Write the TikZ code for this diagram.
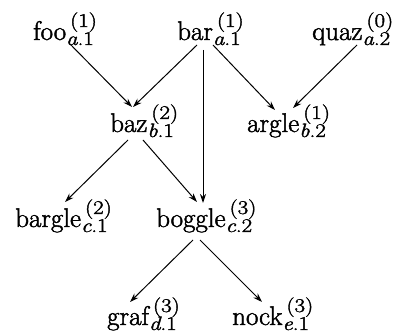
\documentclass[tikz,border=0pt]{standalone}
\usepackage{graphicx}
\usetikzlibrary{arrows.meta}
\newcommand\lbl[4]{\special{pdf:literal direct 2 Tr 0.45 w}#1\makebox[0pt][l]{\raisebox{-5pt}{\scalebox{0.85}[0.72]{\itshape #2\upshape.#3}}}\hspace{4pt}\raisebox{13pt}{\scalebox{0.85}[0.72]{(#4)}}\special{pdf:literal direct 0 Tr}}
\begin{document}
\begin{tikzpicture}[x=1pt,y=1pt,
  word/.style={anchor=base west,inner sep=0pt,font=\fontsize{27}{32}\selectfont},
  edge/.style={line width=1pt,-{Stealth[length=9pt,width=6pt]}}]
\useasboundingbox (0,0) rectangle (402,335);
\node[word] (foo) at (33,295) {\lbl{foo}{a}{1}{1}};
\node[word] (bar) at (177,295) {\lbl{bar}{a}{1}{1}};
\node[word] (quaz) at (312,295) {\lbl{quaz}{a}{2}{0}};
\node[word] (baz) at (110,203) {\lbl{baz}{b}{1}{2}};
\node[word] (argle) at (247,203) {\lbl{argle}{b}{2}{1}};
\node[word] (bargle) at (15,108) {\lbl{bargle}{c}{1}{2}};
\node[word] (boggle) at (156,108) {\lbl{boggle}{c}{2}{3}};
\node[word] (graf) at (107,10) {\lbl{graf}{d}{1}{3}};
\node[word] (nock) at (232,10) {\lbl{nock}{e}{1}{3}};
\draw[edge] ([shift={(37,-4)}]foo.base west) -- ([shift={(22,25)}]baz.base west);
\draw[edge] ([shift={(20,-5)}]bar.base west) -- ([shift={(23,25)}]baz.base west);
\draw[edge] ([shift={(26,-10)}]bar.base west) -- ([shift={(47,24)}]boggle.base west);
\draw[edge] ([shift={(36,-5)}]bar.base west) -- ([shift={(28,22)}]argle.base west);
\draw[edge] ([shift={(45,-5)}]quaz.base west) -- ([shift={(46,24)}]argle.base west);
\draw[edge] ([shift={(18,-8)}]baz.base west) -- ([shift={(50,25)}]bargle.base west);
\draw[edge] ([shift={(33,-8)}]baz.base west) -- ([shift={(41,25)}]boggle.base west);
\draw[edge] ([shift={(37,-13)}]boggle.base west) -- ([shift={(23,23)}]graf.base west);
\draw[edge] ([shift={(44,-13)}]boggle.base west) -- ([shift={(30,23)}]nock.base west);
\end{tikzpicture}
\end{document}
